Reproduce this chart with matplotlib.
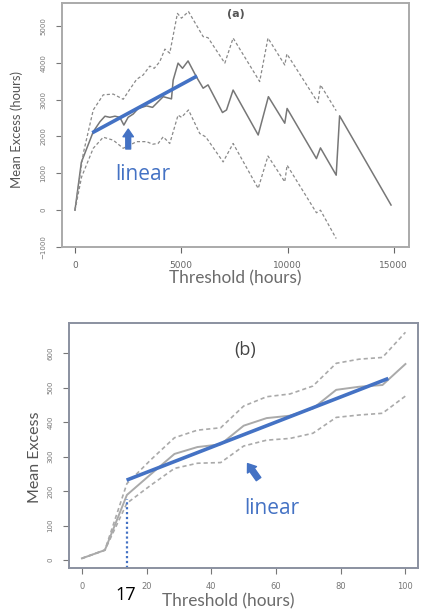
import matplotlib
matplotlib.use("Agg")
import matplotlib.pyplot as plt

# ---------------- Panel (a) data ----------------
a_x = [0, 300, 860, 1175, 1410, 1640, 1880, 2110, 2300, 2500, 2740, 2975, 3370, 3650, 3840,
       4150, 4540, 4620, 4850, 5060, 5320, 5710, 6030, 6260, 6940, 7130, 7440, 8620, 9100,
       9870, 9980, 11360, 11550, 12290, 12450, 14870]
a_mean = [0, 1300, 2130, 2400, 2550, 2520, 2550, 2520, 2310, 2520, 2610, 2760, 2830, 2790, 2900,
          3080, 3020, 3530, 3990, 3850, 4050, 3620, 3310, 3400, 2650, 2720, 3260, 2040, 3080,
          2360, 2760, 1400, 1690, 950, 2560, 140]
a_up_x = [0, 390, 860, 1330, 1800, 2270, 2580, 2900, 3210, 3520, 3730, 3990, 4230, 4460, 4820,
          5010, 5340, 6030, 6260, 7050, 7440, 8690, 9080, 9870, 9970, 11430, 11550, 12290]
a_up = [0, 1540, 2720, 3130, 3150, 3010, 3280, 3550, 3670, 3910, 3850, 4030, 4370, 4260, 5340,
        5210, 5390, 4710, 4680, 3990, 4670, 3490, 4670, 3940, 4240, 2920, 3400, 2700]
a_lo_x = [0, 310, 860, 1330, 1800, 2270, 2900, 3370, 3650, 3910, 4150, 4460, 4850, 5010, 5340,
          5870, 6150, 6970, 7440, 8620, 9080, 9870, 9980, 11360, 11550, 12290]
a_lo = [0, 900, 1680, 1980, 1900, 1680, 1860, 1860, 1790, 1810, 1990, 1810, 2580, 2520, 2720,
        2080, 1990, 1310, 1810, 590, 1470, 770, 1220, -70, 0, -770]
a_fit_x = [814, 5746]
a_fit_y = [2101, 3641]
a_xticks = [0, 5000, 10000, 15000]
a_yticks = [-1000, 0, 1000, 2000, 3000, 4000, 5000]

# ---------------- Panel (b) data ----------------
b_x = [0, 7.1, 13.9, 21.4, 28.6, 35.7, 42.9, 50, 57.1, 64.3, 71.4, 78.6, 85.7, 92.9, 100]
b_mean = [5, 29, 189, 250, 308, 328, 336, 390, 412, 419, 440, 494, 503, 508, 569]
b_up = [5, 29, 222, 292, 355, 377, 384, 447, 474, 482, 505, 571, 583, 588, 661]
b_lo = [5, 29, 165, 218, 266, 281, 283, 331, 348, 353, 368, 414, 421, 426, 476]
b_fit_x = [13.8, 94.7]
b_fit_y = [232, 527]
b_thresh = 13.9
b_thresh_top = 177
b_xticks = [0, 20, 40, 60, 80, 100]
b_yticks = [0, 100, 200, 300, 400, 500, 600]

BLUE = "#4472C4"
ANN_FONT = ["Open Sans", "DejaVu Sans"]
LAB_FONT = ["Lato", "DejaVu Sans"]

fig = plt.figure(figsize=(4.32, 6.13), dpi=100)

# ================= Panel (a) =================
axa = fig.add_axes([0.1435, 0.597, 0.803, 0.398])
axa.plot(a_x, a_mean, color="#777777", lw=1.1)
axa.plot(a_up_x, a_up, color="#8a8a8a", lw=0.9, ls=(0, (2.5, 1.8)))
axa.plot(a_lo_x, a_lo, color="#8a8a8a", lw=0.9, ls=(0, (2.5, 1.8)))
axa.plot(a_fit_x, a_fit_y, color=BLUE, lw=2.6, solid_capstyle="butt")
axa.set_xlim(-611, 15710)
axa.set_ylim(-1000, 5620)
axa.set_xticks(a_xticks)
axa.set_yticks(a_yticks)
axa.tick_params(axis="x", labelsize=6.5, colors="#666666", length=4, width=0.8, pad=6)
axa.tick_params(axis="y", labelsize=5, colors="#777777", length=4, width=0.8, labelrotation=90, pad=7)
for lab in axa.get_yticklabels():
    lab.set_verticalalignment("center")
for s in axa.spines.values():
    s.set_color("#aaaaaa")
    s.set_linewidth(1.4)
axa.set_xlabel("Threshold (hours)", fontsize=12.4, color="#6b6b6b", family=LAB_FONT)
axa.xaxis.set_label_coords(0.5, -0.094)
axa.set_ylabel("Mean Excess (hours)", fontsize=9.4, color="#555555", family=LAB_FONT)
axa.yaxis.set_label_coords(-0.113, 0.48)
axa.text(0.5, 0.955, "(a)", transform=axa.transAxes, ha="center", va="center",
         fontsize=8, fontweight="bold", color="#555555")
axa.annotate("", xy=(2505, 2200), xytext=(2505, 1660),
             arrowprops=dict(arrowstyle="simple,head_length=0.55,head_width=0.75,tail_width=0.35",
                             color=BLUE, shrinkA=0, shrinkB=0))
axa.text(3210, 978, "linear", color=BLUE, fontsize=15, ha="center", va="center", family=ANN_FONT)

# ================= Panel (b) =================
axb = fig.add_axes([0.1597, 0.0734, 0.808, 0.3997])
axb.plot(b_x, b_mean, color="#aaaaaa", lw=1.4)
axb.plot(b_x, b_up, color="#aaaaaa", lw=1.2, ls=(0, (2.5, 1.8)))
axb.plot(b_x, b_lo, color="#aaaaaa", lw=1.2, ls=(0, (2.5, 1.8)))
axb.plot(b_fit_x, b_fit_y, color=BLUE, lw=2.6, solid_capstyle="butt")
axb.plot([b_thresh, b_thresh], [-23, b_thresh_top], color=BLUE, lw=1.6, ls=(0, (1, 1.2)))
axb.set_xlim(-4.0, 103.9)
axb.set_ylim(-23, 688)
axb.set_xticks(b_xticks)
axb.set_yticks(b_yticks)
axb.tick_params(axis="x", labelsize=6, colors="#777777", length=4, width=0.8, pad=6)
axb.tick_params(axis="y", labelsize=5, colors="#777777", length=4, width=0.8, labelrotation=90, pad=7)
for lab in axb.get_yticklabels():
    lab.set_verticalalignment("center")
for s in axb.spines.values():
    s.set_color("#8a90a0")
    s.set_linewidth(1.4)
axb.set_xlabel("Threshold (hours)", fontsize=12.4, color="#6b6b6b", family=LAB_FONT)
axb.xaxis.set_label_coords(0.456, -0.102)
axb.set_ylabel("Mean Excess", fontsize=11.5, color="#555555", family=LAB_FONT)
axb.yaxis.set_label_coords(-0.077, 0.45)
axb.text(50.4, 610, "(b)", color="#444444", fontsize=13, ha="center", va="center", family=ANN_FONT)
axb.annotate("", xy=(51.2, 280), xytext=(54.6, 235),
             arrowprops=dict(arrowstyle="simple,head_length=0.55,head_width=0.8,tail_width=0.4",
                             color=BLUE, shrinkA=0, shrinkB=0))
axb.text(58.7, 150, "linear", color=BLUE, fontsize=15, ha="center", va="center", family=ANN_FONT)
axb.text(13.5, -100, "17", color="black", fontsize=13, ha="center", va="center", family=ANN_FONT)

fig.savefig("out.png", dpi=100)
